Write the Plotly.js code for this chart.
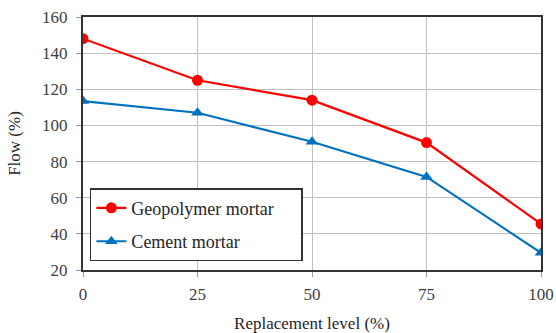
<!DOCTYPE html>
<html><head><meta charset="utf-8">
<script src="https://cdn.plot.ly/plotly-3.0.1.min.js"></script>
<style>html,body{margin:0;padding:0;background:#fff}#chart{width:556px;height:333px}</style>
</head><body><div id="chart"></div>
<script>
const replacement = [0, 25, 50, 75, 100];
const geopolymer = [148, 125, 114, 90.5, 45.5];
const cement = [113.5, 107, 91, 71.5, 29.5];
const tickVals = [0, 25, 50, 75, 100];
const seriesNames = ["Geopolymer mortar", "Cement mortar"];

const serif = "Liberation Serif, serif";
const pad = "\u00a0\u00a0\u00a0\u00a0\u00a0";
const traces = [
  {x: replacement, y: geopolymer, name: seriesNames[0] + pad, mode: "lines+markers", legendgroup: "g",
   line: {color: "#ff0000", width: 2.2}, marker: {symbol: "circle", size: 11, color: "#ff0000"}},
  {x: replacement, y: cement, name: seriesNames[1], mode: "lines+markers", legendgroup: "c",
   line: {color: "#0070c0", width: 2.2}, marker: {symbol: "triangle-up", size: 11, color: "#0070c0"}}
];
const layout = {
  width: 556, height: 333,
  margin: {l: 83, r: 15, t: 17, b: 63},
  paper_bgcolor: "#fff", plot_bgcolor: "#fff",
  font: {family: serif, color: "#404040", size: 16},
  showlegend: true,
  legend: {x: 0.015, y: 0.035, xanchor: "left", yanchor: "bottom", bgcolor: "#fff",
    bordercolor: "#333", borderwidth: 1.5, font: {family: serif, size: 18, color: "#262626"},
    tracegroupgap: 7, itemwidth: 30},
  xaxis: {range: [0, 100], tickvals: tickVals, ticktext: tickVals.map(String),
    showgrid: true, gridcolor: "#bfbfbf", gridwidth: 1,
    showline: true, linecolor: "#333", linewidth: 2, mirror: true,
    ticks: "outside", ticklen: 5, tickcolor: "#999", zeroline: false,
    ticklabelstandoff: 3,
    tickfont: {family: serif, size: 17, color: "#404040"},
    title: {text: "Replacement level (%)", font: {family: serif, size: 17, color: "#262626"}, standoff: 14}},
  yaxis: {range: [20, 160], dtick: 20, tick0: 20,
    showgrid: true, gridcolor: "#bfbfbf", gridwidth: 1,
    showline: true, linecolor: "#333", linewidth: 2, mirror: true,
    ticks: "outside", ticklen: 5, tickcolor: "#999", zeroline: false,
    ticklabelstandoff: 5,
    tickfont: {family: serif, size: 17, color: "#404040"},
    title: {text: "Flow (%)", font: {family: serif, size: 17, color: "#262626"}, standoff: 17}}
};
Plotly.newPlot("chart", traces, layout, {displayModeBar: false, staticPlot: true});
</script></body></html>
